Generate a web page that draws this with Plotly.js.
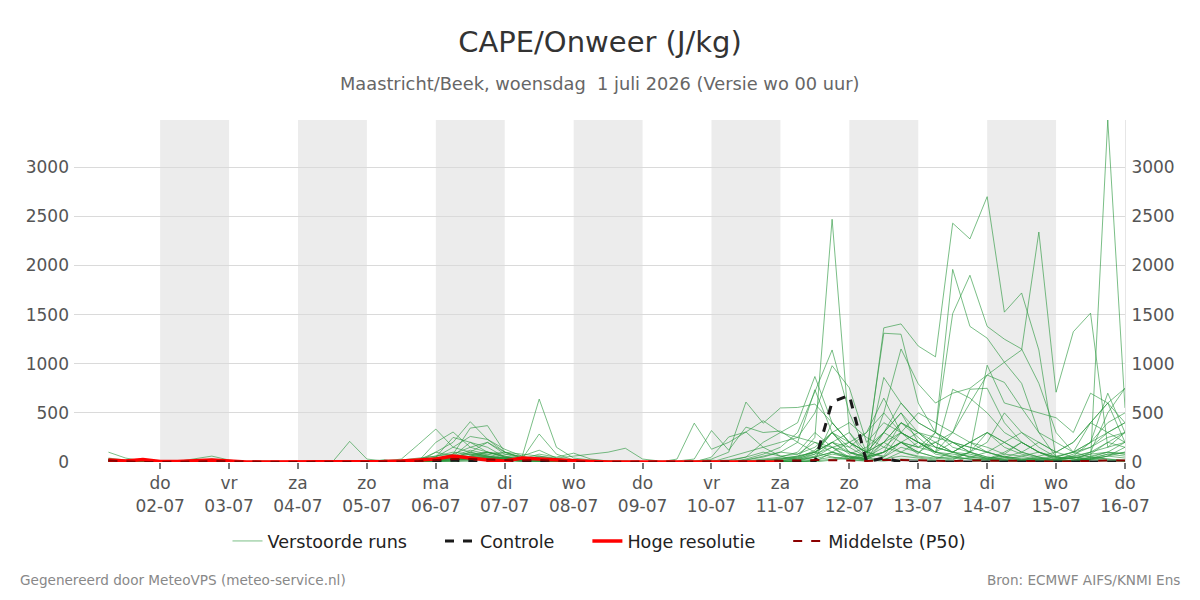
<!DOCTYPE html>
<html>
<head>
<meta charset="utf-8">
<script src="https://cdn.plot.ly/plotly-3.0.1.min.js"></script>
<style>html,body{margin:0;padding:0;background:#fff;}#chart{width:1200px;height:600px;}</style>
</head>
<body>
<div id="chart"></div>
<script>
// 6-hourly steps starting 2026-07-01 06:00 (60 steps, last = 2026-07-16 00:00)
const startTime = '2026-07-01T06:00:00';
const stepHours = 6;
const nSteps = 60;

const tickDates = ['2026-07-02','2026-07-03','2026-07-04','2026-07-05','2026-07-06','2026-07-07','2026-07-08','2026-07-09','2026-07-10','2026-07-11','2026-07-12','2026-07-13','2026-07-14','2026-07-15','2026-07-16'];
const tickLabels = ['do<br>02-07','vr<br>03-07','za<br>04-07','zo<br>05-07','ma<br>06-07','di<br>07-07','wo<br>08-07','do<br>09-07','vr<br>10-07','za<br>11-07','zo<br>12-07','ma<br>13-07','di<br>14-07','wo<br>15-07','do<br>16-07'];
const shadeStarts = ['2026-07-02','2026-07-04','2026-07-06','2026-07-08','2026-07-10','2026-07-12','2026-07-14'];

// Perturbed members (J/kg)
const m01 = [30,10,5, 0,5,10,20, 5,0,10,5, 0,0,0,0, 5,10,20,10, 40,60,30,20, 10,20,30,10, 5,10,5,0, 0,0,5,10, 0,0,20,60, 100,80,150,300, 100,20,200,400, 250,100,60,30, 20,80,200,100, 30,50,20,3480, 550];
const m02 = [20,5,0, 0,0,5,10, 0,5,5,0, 0,0,0,0, 0,20,10,5, 20,30,50,80, 40,30,20,10, 0,5,0,0, 0,0,0,0, 0,0,0,10, 30,60,100,200, 80,150,300,200, 100,200,300,600, 885,1015,1140,2340, 710,1325,1515,150, 300];
const m03 = [40,20,10, 0,5,5,10, 10,0,0,0, 0,0,0,0, 0,5,10,30, 60,100,80,50, 30,20,40,20, 10,0,0,0, 0,0,0,0, 0,10,50,100, 60,80,200,150, 30,60,1365,1405, 1180,1070,2430,2270, 2700,1525,1720,1140, 30,60,100,200, 150];
const m04 = [20,10,5, 0,0,10,30, 10,5,0,0, 0,0,0,0, 10,20,0,0, 30,80,150,100, 60,20,40,30, 10,0,0,0, 0,0,0,0, 0,0,10,20, 30,50,250,2470, 300,50,150,300, 200,80,50,100, 30,20,10,0, 0,0,50,100, 80];
const m05 = [15,5,0, 0,5,10,5, 0,0,5,0, 0,0,0,0, 0,10,10,0, 100,60,200,150, 50,20,30,10, 5,0,0,0, 0,0,0,0, 20,0,30,80, 150,300,715,1140, 500,100,200,400, 300,150,100,200, 300,150,80,40, 20,50,100,150, 200];
const m06 = [30,10,5, 0,0,5,10, 5,0,0,0, 0,0,0,0, 0,5,0,0, 20,50,100,200, 80,60,30,20, 10,5,0,0, 0,0,0,0, 0,50,100,150, 200,250,500,980, 755,200,400,300, 200,100,300,740, 750,400,200,100, 50,100,200,300, 400];
const m07 = [25,10,5, 0,0,5,10, 0,5,10,0, 0,0,0,0, 0,5,10,0, 50,150,260,230, 100,40,20,10, 5,0,0,0, 0,0,0,0, 10,20,50,200, 300,400,870,400, 200,100,300,600, 400,300,1960,1380, 1260,1015,800,300, 50,30,20,10, 5];
const m08 = [20,5,0, 0,0,5,5, 0,0,0,0, 0,0,0,0, 0,0,5,10, 30,40,50,40, 20,10,10,5, 0,0,0,0, 0,0,0,0, 0,0,20,50, 100,200,735,300, 100,50,100,200, 150,300,1510,1900, 1380,1250,1150,800, 300,100,50,30, 20];
const m09 = [20,5,0, 0,0,5,5, 0,0,0,0, 0,0,0,0, 0,0,10,20, 40,30,60,100, 50,30,20,10, 0,0,5,10, 0,0,30,395, 130,200,305,150, 60,20,80,300, 150,50,100,200, 80,300,150,100, 50,30,60,20, 10,40,80,200, 300];
const m10 = [10,5,0, 0,5,5,10, 0,0,5,0, 0,0,0,0, 0,0,5,10, 30,40,30,50, 30,20,50,30, 10,5,0,0, 0,0,0,10, 30,100,610,395, 550,555,590,400, 200,100,300,500, 300,150,100,200, 150,80,60,100, 20,10,30,60, 100];
const m11 = [15,5,0, 0,0,5,5, 5,0,0,0, 0,0,0,0, 0,5,5,5, 20,40,100,60, 30,20,10,10, 5,0,0,10, 5,0,10,30, 320,120,355,300, 315,200,100,50, 30,100,200,300, 150,200,100,80, 40,60,30,20, 10,5,30,60, 40];
const m12 = [10,5,5, 0,0,10,5, 0,0,0,0, 0,0,0,0, 0,0,0,0, 10,30,50,40, 30,40,20,10, 5,0,0,0, 0,0,0,0, 50,255,305,420, 300,250,200,100, 30,10,50,150, 100,50,40,30, 20,10,0,0, 0,0,0,0, 0];
const m13 = [20,10,5, 0,5,10,10, 5,0,0,0, 0,0,0,210, 30,10,5,10, 40,60,120,80, 100,50,640,150, 40,20,10,5, 0,0,0,0, 0,0,10,30, 50,100,300,150, 50,30,100,200, 300,250,200,150, 100,50,20,10, 5,20,40,80, 100];
const m14 = [30,10,5, 0,0,5,10, 0,0,0,0, 0,0,0,0, 0,10,30,180, 335,150,100,60, 40,30,285,80, 20,10,5,0, 0,0,0,0, 0,0,0,20, 40,60,100,200, 300,100,50,200, 150,100,80,60, 40,20,10,30, 60,100,200,400, 500];
const m15 = [20,5,0, 0,5,5,5, 0,0,0,0, 0,0,0,0, 0,5,10,20, 100,200,410,230, 130,60,120,40, 20,10,0,0, 0,0,0,0, 0,0,0,0, 20,40,80,150, 100,50,860,600, 400,300,200,150, 100,50,40,30, 20,80,150,250, 300];
const m16 = [25,10,5, 0,0,5,5, 5,0,0,0, 0,0,0,0, 0,0,20,40, 60,80,345,370, 100,80,60,30, 10,5,0,0, 0,0,0,0, 0,0,0,10, 30,50,100,200, 150,300,650,300, 200,100,740,650, 500,300,200,100, 50,30,20,60, 150];
const m17 = [20,5,0, 0,5,10,5, 0,0,0,0, 0,0,0,0, 0,10,5,10, 200,305,150,200, 100,40,20,10, 5,0,0,0, 0,0,0,0, 0,0,0,0, 10,30,100,300, 200,100,1310,1300, 600,300,200,100, 985,600,550,300, 200,100,400,600, 750];
const m18 = [15,5,0, 0,0,5,5, 0,0,5,0, 0,0,0,0, 0,0,5,10, 50,250,200,100, 80,40,30,20, 10,5,0,0, 0,0,0,0, 0,0,0,0, 0,20,50,100, 200,300,500,1150, 795,600,700,750, 885,810,550,500, 450,300,700,600, 400];
const m19 = [10,5,0, 0,0,0,5, 0,0,0,0, 0,0,0,0, 0,0,0,0, 20,40,60,100, 50,30,60,40, 60,80,100,140, 30,10,0,0, 0,0,0,0, 0,10,50,100, 60,30,100,400, 300,200,100,50, 30,100,200,100, 40,60,200,700, 300];
const m20 = [100,40,10, 0,5,30,60, 20,0,0,0, 0,0,0,0, 0,0,10,10, 30,50,80,60, 40,30,80,50, 90,30,10,0, 0,0,0,0, 0,0,0,0, 10,30,60,200, 100,50,200,100, 50,30,100,200, 300,200,100,50, 20,10,100,500, 750];
const m21 = [20,5,0, 0,0,0,5, 0,0,0,0, 0,0,0,0, 0,0,0,5, 10,20,30,40, 20,10,20,10, 5,0,0,0, 0,0,0,0, 0,0,0,0, 0,10,30,80, 50,20,300,500, 200,100,50,30, 20,50,100,200, 100,200,400,600, 200];
const m22 = [10,5,0, 0,0,0,0, 0,0,0,0, 0,0,0,0, 0,0,0,0, 10,20,40,60, 30,20,10,5, 0,0,0,0, 0,0,0,0, 0,0,0,0, 0,20,50,150, 200,100,60,300, 500,400,300,200, 100,200,300,150, 50,100,150,300, 400];
const m23 = [15,5,0, 0,0,5,0, 0,0,0,0, 0,0,0,0, 0,0,0,0, 20,30,20,30, 40,30,20,10, 0,0,0,0, 0,0,0,0, 0,0,0,0, 0,0,20,400, 200,50,100,200, 100,50,30,100, 200,500,300,200, 100,50,30,20, 10];
const m24 = [20,5,0, 0,0,0,5, 0,0,0,0, 0,0,0,0, 0,0,0,0, 30,50,80,100, 60,40,30,20, 10,0,0,0, 0,0,0,0, 0,0,0,0, 10,40,120,300, 400,250,150,100, 60,40,20,100, 300,200,100,50, 20,40,80,100, 80];
const m25 = [10,5,0, 0,0,0,0, 0,0,0,0, 0,0,0,0, 0,0,0,0, 10,20,30,20, 10,5,5,0, 0,0,0,0, 0,0,0,0, 0,0,0,0, 0,0,0,100, 50,20,500,300, 200,100,200,100, 50,30,20,60, 100,200,400,300, 200];
const m26 = [5,0,0, 0,0,0,0, 0,0,0,0, 0,0,0,0, 0,0,0,0, 0,10,20,40, 20,10,5,0, 0,0,0,0, 0,0,0,0, 0,0,0,0, 0,0,20,50, 20,10,30,60, 40,20,10,5, 0,10,20,40, 20,10,30,80, 60];
const m27 = [10,0,0, 0,0,0,0, 0,0,0,0, 0,0,0,0, 0,0,0,0, 10,20,60,50, 40,30,20,10, 5,0,0,0, 0,0,0,0, 0,0,0,0, 0,0,10,30, 60,40,20,100, 200,150,100,50, 30,20,10,20, 30,40,60,100, 200];
const m28 = [5,0,0, 0,0,0,0, 0,0,0,0, 0,0,0,0, 0,0,0,0, 0,5,10,30, 20,10,5,0, 0,0,0,0, 0,0,0,0, 0,0,0,0, 0,0,0,20, 40,20,10,30, 20,10,5,50, 100,50,20,10, 0,20,50,30, 10];
const members = [m01,m02,m03,m04,m05,m06,m07,m08,m09,m10,m11,m12,m13,m14,m15,m16,m17,m18,m19,m20,m21,m22,m23,m24,m25,m26,m27,m28];

// Control run
const control = [10,5,0, 0,0,5,10, 5,0,0,0, 0,0,0,0, 0,0,5,5, 10,20,10,5, 5,10,5,0, 0,0,0,0, 0,0,0,0, 0,0,0,0, 0,0,0,610, 680,0,40,0, 0,0,0,0, 0,0,0,0, 0,0,0,0, 0];
// High resolution run (first 41 steps)
const hres = [20,10,25, 5,5,10,20, 10,0,0,0, 0,0,0,0, 0,5,10,20, 30,60,40,20, 10,40,30,20, 10,5,0,0, 0,0,0,0, 0,0,0,0, 0];
// Median (P50)
const median = [15,5,0, 0,0,5,10, 5,0,0,0, 0,0,0,0, 0,0,5,10, 20,30,30,25, 20,15,20,10, 5,0,0,0, 0,0,0,0, 0,0,5,10, 10,15,20,20, 15,10,20,20, 15,10,10,15, 15,10,10,10, 5,10,15,15, 15];

const legendNames = ['Verstoorde runs', 'Controle', 'Hoge resolutie', 'Middelste (P50)'];

const t0 = new Date(startTime + 'Z').getTime();
function fmt(ms){ const d = new Date(ms); const p = n => String(n).padStart(2,'0');
  return d.getUTCFullYear()+'-'+p(d.getUTCMonth()+1)+'-'+p(d.getUTCDate())+' '+p(d.getUTCHours())+':00'; }
const times = [];
for (let i = 0; i < nSteps; i++) times.push(fmt(t0 + i*stepHours*3600000));

const pad = '\u00a0\u00a0\u00a0\u00a0\u00a0';
const green = 'rgba(40,150,60,0.62)';
const traces = [];
members.forEach((m, k) => {
  traces.push({x: times, y: m, type: 'scatter', mode: 'lines', name: legendNames[0] + pad,
    legendgroup: 'ens', showlegend: k === 0, line: {color: green, width: 1}, hoverinfo: 'skip'});
});
traces.push({x: times, y: control, type: 'scatter', mode: 'lines', name: legendNames[1] + pad,
  line: {color: '#1a1a1a', width: 3, dash: 'dash'}});
traces.push({x: times.slice(0, hres.length), y: hres, type: 'scatter', mode: 'lines', name: legendNames[2] + pad,
  line: {color: '#ff0000', width: 3.5}});
traces.push({x: times, y: median, type: 'scatter', mode: 'lines', name: legendNames[3],
  line: {color: '#8b0000', width: 2, dash: 'dash'}});
traces.push({x: [times[0]], y: [null], yaxis: 'y2', type: 'scatter', mode: 'lines', showlegend: false, hoverinfo: 'skip'});

const shapes = shadeStarts.map(s => {
  const e = new Date(new Date(s + 'T00:00:00Z').getTime() + 86400000);
  return {type: 'rect', xref: 'x', yref: 'paper', x0: s + ' 00:00', x1: fmt(e.getTime()), y0: 0, y1: 1,
    fillcolor: '#ececec', line: {width: 0}, layer: 'below'};
});

const FONT = 'DejaVu Sans, sans-serif';
const yMax = 3480;
const layout = {
  width: 1200, height: 600,
  margin: {l: 74, r: 75, t: 120, b: 138},
  paper_bgcolor: '#ffffff', plot_bgcolor: '#ffffff',
  font: {family: FONT, color: '#555'},
  title: {text: 'CAPE/Onweer (J/kg)', x: 0.5, xanchor: 'center', y: 0.93, yanchor: 'middle',
    font: {size: 29, color: '#333', family: FONT}},
  showlegend: true,
  legend: {orientation: 'h', x: 0.5, xanchor: 'center', y: -0.231, yanchor: 'middle',
    font: {size: 17.6, color: '#222', family: FONT}, itemwidth: 30},
  xaxis: {type: 'date', range: ['2026-06-30 18:00', '2026-07-16 00:00'],
    tickmode: 'array', tickvals: tickDates.map(d => d + ' 00:00'), ticktext: tickLabels,
    ticks: 'outside', ticklen: 6, tickwidth: 2, tickcolor: '#777',
    tickfont: {size: 17, color: '#555', family: FONT},
    showgrid: false, zeroline: false, showline: false, fixedrange: true},
  yaxis: {range: [0, yMax], tickvals: [0,500,1000,1500,2000,2500,3000],
    showgrid: true, gridcolor: '#dadada', gridwidth: 1, zeroline: false, showline: false,
    tickfont: {size: 17, color: '#555', family: FONT}, ticks: '', ticklabelstandoff: 4, fixedrange: true},
  yaxis2: {range: [0, yMax], overlaying: 'y', side: 'right', tickvals: [0,500,1000,1500,2000,2500,3000],
    showgrid: false, zeroline: false, showline: true, linecolor: '#e6e6e6', linewidth: 1,
    tickfont: {size: 17, color: '#555', family: FONT}, ticks: '', ticklabelstandoff: 2, fixedrange: true},
  shapes: shapes,
  annotations: [
    {text: 'Maastricht/Beek, woensdag \u00a01 juli 2026 (Versie wo 00 uur)', xref: 'paper', yref: 'paper',
      x: 0.5, y: (462 - 83) / 342, xanchor: 'center', yanchor: 'middle', showarrow: false,
      font: {size: 17.8, color: '#666', family: FONT}},
    {text: 'Gegenereerd door MeteoVPS (meteo-service.nl)', xref: 'paper', yref: 'paper',
      x: (18 - 74) / 1051, y: (462 - 580) / 342, xanchor: 'left', yanchor: 'middle', showarrow: false,
      font: {size: 13.6, color: '#888', family: FONT}},
    {text: 'Bron: ECMWF AIFS/KNMI Ens', xref: 'paper', yref: 'paper',
      x: (1182 - 74) / 1051, y: (462 - 580) / 342, xanchor: 'right', yanchor: 'middle', showarrow: false,
      font: {size: 13.6, color: '#888', family: FONT}}
  ]
};

Plotly.newPlot('chart', traces, layout, {displayModeBar: false, staticPlot: true});
</script>
</body>
</html>
